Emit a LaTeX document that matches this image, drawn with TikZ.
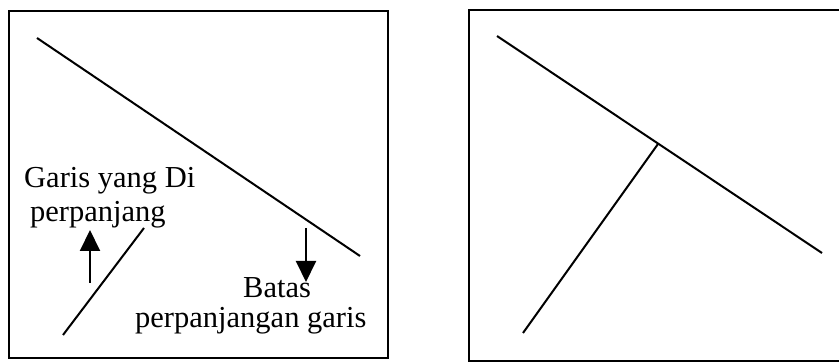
\documentclass[tikz,border=0pt]{standalone}
\usepackage{fontspec}
\setmainfont{Liberation Serif}
\usepackage{tikz}
\usetikzlibrary{arrows.meta, positioning}
\tikzset{
  frame/.style={draw=black, line width=2.4pt},
  garis/.style={draw=black, line width=2pt},
  panah/.style={-{Triangle[width=20pt,length=21pt]}, line width=2pt, color=black},
  ket/.style={font=\fontsize{30.5}{35}\selectfont, inner sep=0pt, anchor=base west}
}

\begin{document}
\begin{tikzpicture}[x=1pt, y=-1pt]
  \useasboundingbox (0,0) rectangle (839,363);
  \clip (0,0) rectangle (839,363);
  % Frames
  \draw[frame] (9,11) rectangle (388,358);
  \draw[frame] (469,10) rectangle (845,361);
  % Left panel points
  \coordinate (la) at (37,38);
  \coordinate (lb) at (360,256);
  \coordinate (lc) at (63,335);
  \coordinate (ld) at (144,228);
  \coordinate (up0) at (90,283);
  \coordinate (up1) at (90,230);
  \coordinate (dn0) at (306,228);
  \coordinate (dn1) at (306,282);
  % Left panel lines
  \draw[garis] (la) -- (lb);
  \draw[garis] (lc) -- (ld);
  \draw[panah] (up0) -- (up1);
  \draw[panah] (dn0) -- (dn1);
  % Left panel labels
  \node[ket] (ket1) at (24,188) {Garis yang Di};
  \node[ket] (ket2) at (30,222) {perpanjang};
  \node[ket] (ket3) at (243,298) {Batas};
  \node[ket] (ket4) at (135,328) {perpanjangan garis};
  % Right panel
  \coordinate (ra) at (497,36);
  \coordinate (rb) at (822,253);
  \coordinate (rc) at (523,333);
  \coordinate (rd) at (658,144);
  \draw[garis] (ra) -- (rb);
  \draw[garis] (rc) -- (rd);
\end{tikzpicture}
\end{document}
